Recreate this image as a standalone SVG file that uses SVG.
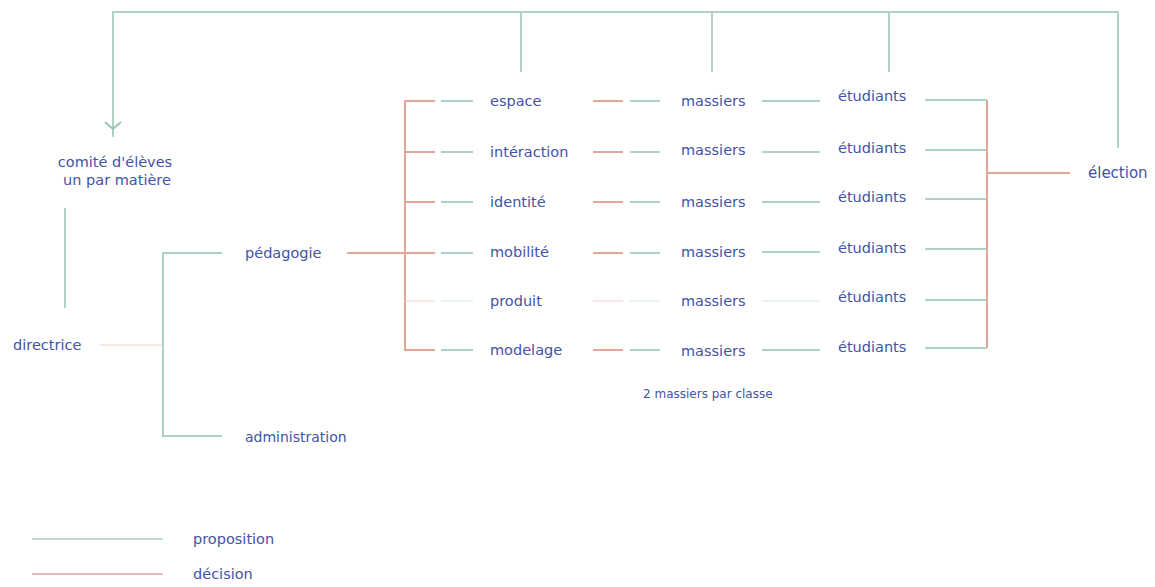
<svg xmlns="http://www.w3.org/2000/svg" width="1155" height="587" viewBox="0 0 1155 587">
<defs>
<style>
.g{stroke:#afd3c1;stroke-width:2;fill:none}
.r{stroke:#e0a69b;stroke-width:2;fill:none}
.gt{stroke:#d3e7dc;stroke-width:1;fill:none}
.rt{stroke:#f2d2cb;stroke-width:1;fill:none}
.arrow{stroke:#98c6af;stroke-width:2;fill:none}
text{font-family:"DejaVu Sans","Liberation Sans",sans-serif;fill:#4353a6;font-size:14.5px}
.s{font-size:12px}
.m{text-anchor:middle}
</style>
</defs>
<rect width="1155" height="587" fill="#ffffff"/>
<g id="connectors">
<path class="g" d="M1118 148 V12 H113 V137"/>
<path class="arrow" d="M105 122 L113 129 L121 122"/>
<path class="g" d="M521 12 V72"/>
<path class="g" d="M712 12 V72"/>
<path class="g" d="M889 12 V72"/>
<path class="g" d="M65 208 V308"/>
<path class="rt" d="M100 345 H163"/>
<path class="g" d="M222 253 H163 V436 H222"/>
<path class="r" d="M347 253 H435"/>
<path class="r" d="M435 101 H405 V350 H435"/>
<path class="r" d="M405 152 H435 M405 202 H435"/>
<path class="rt" d="M405 301 H435"/>
<path class="g" d="M441 101 H473 M441 152 H473 M441 202 H473 M441 253 H473 M441 350 H473"/>
<path class="gt" d="M441 301 H473"/>
<path class="r" d="M593 101 H623 M593 152 H623 M593 202 H623 M593 253 H623 M593 350 H623"/>
<path class="rt" d="M593 301 H623"/>
<path class="g" d="M630 101 H660 M630 152 H660 M630 202 H660 M630 253 H660 M630 350 H660"/>
<path class="gt" d="M630 301 H660"/>
<path class="g" d="M762 101 H820 M762 152 H820 M762 202 H820 M762 252 H820 M762 350 H820"/>
<path class="gt" d="M762 301 H820"/>
<path class="g" d="M925 100 H987 M925 150 H987 M925 199 H987 M925 249 H987 M925 300 H987 M925 348 H987"/>
<path class="r" d="M987 100 V348 M987 173 H1070"/>
</g>
<g id="comite"><text class="m" x="115" y="167">comité d'élèves</text><text class="m" x="117" y="185">un par matière</text></g>
<g id="directrice"><text x="13" y="350">directrice</text></g>
<g id="pedagogie"><text x="245" y="258">pédagogie</text></g>
<g id="administration"><text x="245" y="442" style="font-size:14px">administration</text></g>
<g id="espace"><text x="490" y="106">espace</text></g>
<g id="interaction"><text x="490" y="157">intéraction</text></g>
<g id="identite"><text x="490" y="207">identité</text></g>
<g id="mobilite"><text x="490" y="257">mobilité</text></g>
<g id="produit"><text x="490" y="306">produit</text></g>
<g id="modelage"><text x="490" y="355">modelage</text></g>
<g id="massiers1"><text x="681" y="106">massiers</text></g>
<g id="massiers2"><text x="681" y="155">massiers</text></g>
<g id="massiers3"><text x="681" y="207">massiers</text></g>
<g id="massiers4"><text x="681" y="257">massiers</text></g>
<g id="massiers5"><text x="681" y="306">massiers</text></g>
<g id="massiers6"><text x="681" y="356">massiers</text></g>
<g id="etudiants1"><text x="838" y="101">étudiants</text></g>
<g id="etudiants2"><text x="838" y="153">étudiants</text></g>
<g id="etudiants3"><text x="838" y="202">étudiants</text></g>
<g id="etudiants4"><text x="838" y="253">étudiants</text></g>
<g id="etudiants5"><text x="838" y="302">étudiants</text></g>
<g id="etudiants6"><text x="838" y="352">étudiants</text></g>
<g id="election"><text x="1088" y="178" style="font-size:15px">élection</text></g>
<g id="note"><text class="s" x="643" y="398">2 massiers par classe</text></g>
<g id="legend">
<path class="g" d="M32 539 H163" style="stroke-width:1.5"/>
<path class="r" d="M32 574 H163" style="stroke-width:1.5"/>
<text x="193" y="544">proposition</text>
<text x="193" y="579">décision</text>
</g>
</svg>
